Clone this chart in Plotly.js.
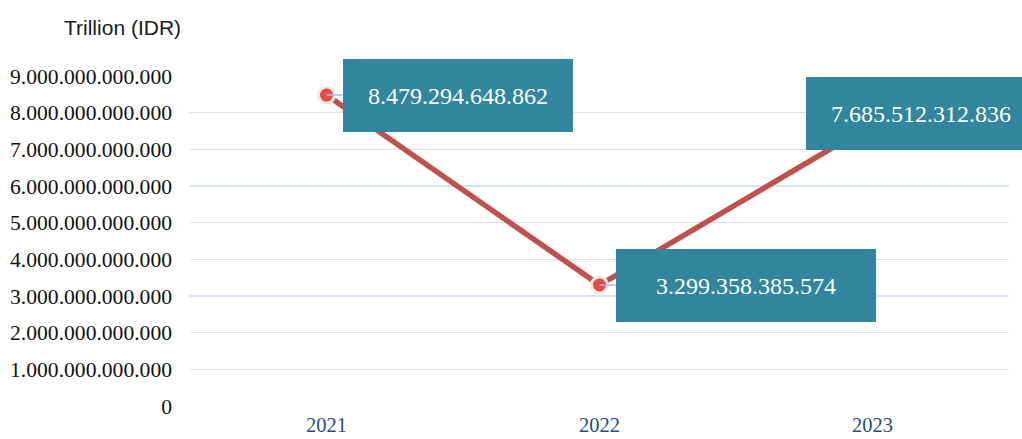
<!DOCTYPE html>
<html>
<head>
<meta charset="utf-8">
<script src="https://cdn.plot.ly/plotly-3.0.1.min.js"></script>
<style>html,body{margin:0;padding:0;background:#fff;}#chart{width:1022px;height:439px;}</style>
</head>
<body>
<div id="chart"></div>
<script>
const years = ['2021', '2022', '2023'];
const values = [8479294648862, 3299358385574, 7685512312836];
const valueLabels = ['8.479.294.648.862', '3.299.358.385.574', '7.685.512.312.836'];
const yTicks = [0, 1e12, 2e12, 3e12, 4e12, 5e12, 6e12, 7e12, 8e12, 9e12];
const xIdx = years.map((_, i) => i);

const lineTrace = {
  x: xIdx, y: values, type: 'scatter', mode: 'lines+markers',
  line: {color: '#c0504d', width: 5.5},
  marker: {size: 16, color: '#e5484d', line: {color: '#efe9dd', width: 3}},
  hoverinfo: 'none'
};

const boxOffsets = [[131, 0, 230], [146, 0, 260], [48, -11, 230]];
const annotations = xIdx.map((xi, i) => ({
  x: xi, y: values[i], xref: 'x', yref: 'y',
  text: valueLabels[i],
  showarrow: true, arrowhead: 0, arrowwidth: 1.5, arrowcolor: '#9dc3e6',
  ax: boxOffsets[i][0], ay: boxOffsets[i][1], standoff: 0,
  bgcolor: '#31859c', borderpad: 0, borderwidth: 0,
  width: boxOffsets[i][2], height: 73,
  font: {family: 'Liberation Serif, Times New Roman, serif', size: 24, color: '#ffffff'}
}));
annotations.push({
  text: 'Trillion (IDR)', xref: 'paper', yref: 'paper',
  x: -0.083, y: 1.148, xanchor: 'center', yanchor: 'middle', showarrow: false,
  font: {family: 'Liberation Sans, Arial, sans-serif', size: 21, color: '#1a1a1a'}
});

const layout = {
  width: 1022, height: 439,
  margin: {l: 190, r: 13, t: 76, b: 33},
  paper_bgcolor: '#ffffff', plot_bgcolor: '#ffffff',
  separators: ',.',
  showlegend: false,
  xaxis: {
    range: [-0.5, 2.5], tickvals: xIdx, ticktext: years,
    showgrid: false, zeroline: false, showline: false, ticks: '',
    tickfont: {family: 'Liberation Serif, Times New Roman, serif', size: 20.5, color: '#2b4c7e'},
    ticklabelstandoff: 4
  },
  yaxis: {
    range: [0, 9e12], tickvals: yTicks, tickformat: ',d',
    showgrid: true, gridcolor: '#d6e2f2', gridwidth: 1.5, zeroline: false, showline: false, ticks: '',
    tickfont: {family: 'Liberation Serif, Times New Roman, serif', size: 21.6, color: '#111111'},
    ticklabelstandoff: 17
  },
  annotations: annotations
};

Plotly.newPlot('chart', [lineTrace], layout, {displayModeBar: false, staticPlot: true});
</script>
</body>
</html>
